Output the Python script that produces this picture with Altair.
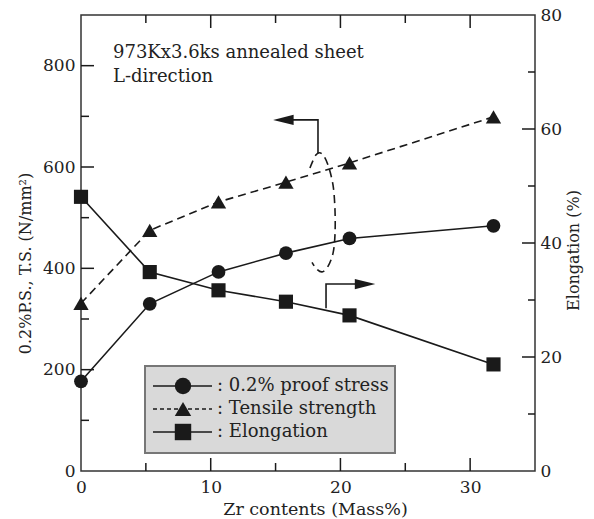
import altair as alt
import pandas as pd

# ---- data ----
zr = [0, 5.3, 10.6, 15.8, 20.7, 31.8]
proof_stress = [177, 330, 393, 430, 459, 484]
tensile = [331, 475, 531, 570, 608, 699]
elongation = [48.1, 34.9, 31.7, 29.7, 27.3, 18.7]

x_labels = [0, 10, 20, 30]
x_major = [10, 20, 30]
x_minor = [5, 15, 25]
left_labels = [0, 200, 400, 600, 800]
left_major = [200, 400, 600, 800]
left_minor = [100, 300, 500, 700]
right_labels = [0, 20, 40, 60, 80]
right_major = [20, 40, 60]
right_minor = [10, 30, 50, 70]

# annotation paths (data units, left axis)
arrowL_x = [18.27, 18.27, 15.6]
arrowL_y = [627, 693, 693]
arrowR_x = [18.89, 18.89, 21.9]
arrowR_y = [321, 369, 369]
ell_x = [17.65, 18.12, 18.58, 19.04, 19.43, 19.58, 19.58, 19.43, 19.04, 18.58, 18.12, 17.81]
ell_y = [598, 624, 626, 604, 564, 515, 466, 430, 404, 393, 400, 412]

legend_labels = [": 0.2% proof stress", ": Tensile strength", ": Elongation"]
note_lines = ["973Kx3.6ks annealed sheet", "L-direction"]

FONT = "DejaVu Serif"
INK = "#1a1a1a"
TXT = "#222222"
W, H = 454, 456

xscale = alt.Scale(domain=[0, 35], nice=False, zero=False)
lscale = alt.Scale(domain=[0, 900], nice=False, zero=False)
rscale = alt.Scale(domain=[0, 80], nice=False, zero=False)

xaxis = alt.Axis(values=x_labels, ticks=False, domain=False, grid=False,
                 title="Zr contents (Mass%)", labelFontSize=17, titleFontSize=17.5,
                 labelPadding=8, titleX=234, titleY=43, titleBaseline="alphabetic",
                 titleAlign="center", labelFlush=False)
laxis = alt.Axis(values=left_labels, ticks=False, domain=False, grid=False,
                 title="0.2%P.S., T.S. (N/mm²)", labelFontSize=17, titleFontSize=16,
                 labelPadding=6, titleX=-56, titleY=248, titleAngle=270,
                 titleAlign="center", titleBaseline="middle", labelFlush=False)
raxis = alt.Axis(values=right_labels, ticks=False, domain=False, grid=False, orient="right",
                 title="Elongation (%)", labelFontSize=17, titleFontSize=16,
                 labelPadding=5, titleX=38, titleY=235, titleAngle=270,
                 titleAlign="center", titleBaseline="middle", labelFlush=False)

X = alt.X("x:Q", scale=xscale, axis=xaxis)
YL = alt.Y("y:Q", scale=lscale, axis=laxis)
YR = alt.Y("y:Q", scale=rscale, axis=raxis)

ps_df = pd.DataFrame({"x": zr, "y": proof_stress})
ts_df = pd.DataFrame({"x": zr, "y": tensile})
el_df = pd.DataFrame({"x": zr, "y": elongation})

ps_line = alt.Chart(ps_df).mark_line(color=INK, strokeWidth=1.6).encode(x=X, y=YL)
ps_pts = alt.Chart(ps_df).mark_point(shape="circle", filled=True, size=190, color=INK, opacity=1).encode(x=X, y=YL)
ts_line = alt.Chart(ts_df).mark_line(color=INK, strokeWidth=1.6, strokeDash=[8, 5]).encode(x=X, y=YL)
ts_pts = alt.Chart(ts_df).mark_point(shape="triangle-up", filled=True, size=235, color=INK, opacity=1).encode(x=X, y=YL)
el_line = alt.Chart(el_df).mark_line(color=INK, strokeWidth=1.6).encode(x=X, y=YR)
el_pts = alt.Chart(el_df).mark_point(shape="square", filled=True, size=200, color=INK, opacity=1).encode(x=X, y=YR)

# inward ticks
def xticks(vals, length):
    d = pd.DataFrame({"x": vals})
    bottom = alt.Chart(d).mark_rule(color=INK, strokeWidth=1.5).encode(
        x=X, y=alt.value(H), y2=alt.value(H - length))
    top = alt.Chart(d).mark_rule(color=INK, strokeWidth=1.5).encode(
        x=X, y=alt.value(0), y2=alt.value(length))
    return [bottom, top]

def yticks(vals, length, Y, right=False):
    d = pd.DataFrame({"y": vals})
    if right:
        return alt.Chart(d).mark_rule(color=INK, strokeWidth=1.5).encode(
            y=Y, x=alt.value(W), x2=alt.value(W - length))
    return alt.Chart(d).mark_rule(color=INK, strokeWidth=1.5).encode(
        y=Y, x=alt.value(0), x2=alt.value(length))

tick_layers_l = xticks(x_major, 13) + xticks(x_minor, 8) + [yticks(left_major, 13, YL), yticks(left_minor, 8, YL)]
tick_layers_r = [yticks(right_major, 13, YR, True), yticks(right_minor, 7, YR, True)]

# annotations
aL = pd.DataFrame({"x": arrowL_x, "y": arrowL_y, "i": list(range(len(arrowL_x)))})
aR = pd.DataFrame({"x": arrowR_x, "y": arrowR_y, "i": list(range(len(arrowR_x)))})
el_path = pd.DataFrame({"x": ell_x, "y": ell_y, "i": list(range(len(ell_x)))})

arrowL = alt.Chart(aL).mark_line(color=INK, strokeWidth=1.6).encode(x=X, y=YL, order="i:Q")
arrowR = alt.Chart(aR).mark_line(color=INK, strokeWidth=1.6).encode(x=X, y=YL, order="i:Q")
headL = alt.Chart(aL.tail(1)).mark_point(shape="M-1,0L1,-0.5L1,0.5Z", filled=True, size=420,
                                         color=INK, opacity=1).encode(x=X, y=YL)
headR = alt.Chart(aR.tail(1)).mark_point(shape="M1,0L-1,-0.5L-1,0.5Z", filled=True, size=420,
                                         color=INK, opacity=1).encode(x=X, y=YL)
ellipse = alt.Chart(el_path).mark_line(color=INK, strokeWidth=1.6, strokeDash=[8, 5],
                                       interpolate="cardinal").encode(x=X, y=YL, order="i:Q")

one = pd.DataFrame({"a": [0]})
notes = []
for k, line in enumerate(note_lines):
    notes.append(alt.Chart(pd.DataFrame({"t": [line]})).mark_text(
        align="left", baseline="alphabetic", font=FONT, fontSize=18, color=TXT).encode(
        x=alt.value(32), y=alt.value(43 + 24 * k), text="t:N"))

# legend
legend = [alt.Chart(one).mark_rect(fill="#d9d9d9", stroke="#777777", strokeWidth=2).encode(
    x=alt.value(64), x2=alt.value(314), y=alt.value(351), y2=alt.value(438))]
shapes = ["circle", "triangle-up", "square"]
dashes = [[1, 0], [4, 3], [1, 0]]
rows = [371, 394, 417]
for lab, shp, dsh, ry in zip(legend_labels, shapes, dashes, rows):
    legend.append(alt.Chart(one).mark_rule(color=INK, strokeWidth=1.4, strokeDash=dsh).encode(
        x=alt.value(72), x2=alt.value(131), y=alt.value(ry)))
    legend.append(alt.Chart(one).mark_point(shape=shp, filled=True, size=270, color=INK, opacity=1).encode(
        x=alt.value(102), y=alt.value(ry)))
    legend.append(alt.Chart(pd.DataFrame({"t": [lab]})).mark_text(
        align="left", baseline="middle", font=FONT, fontSize=18, color=TXT).encode(
        x=alt.value(136), y=alt.value(ry), text="t:N"))

left_group = alt.layer(*tick_layers_l, ts_line, ps_line, ps_pts, ts_pts,
                       arrowL, headL, arrowR, headR, ellipse, *notes, *legend)
right_group = alt.layer(*tick_layers_r, el_line, el_pts)

chart = alt.layer(left_group, right_group).resolve_scale(y="independent").properties(
    width=W, height=H,
    autosize=alt.AutoSizeParams(type="none"),
    padding={"left": 81, "top": 15, "right": 594 - 81 - W, "bottom": 519 - 15 - H},
    background="white",
).configure_axis(
    labelFont=FONT, titleFont=FONT, labelColor=TXT, titleColor=TXT, titleFontWeight="normal"
).configure_view(stroke="#333333", strokeWidth=1.5)

chart.save("out.html", embed_options={"renderer": "svg", "actions": False})
